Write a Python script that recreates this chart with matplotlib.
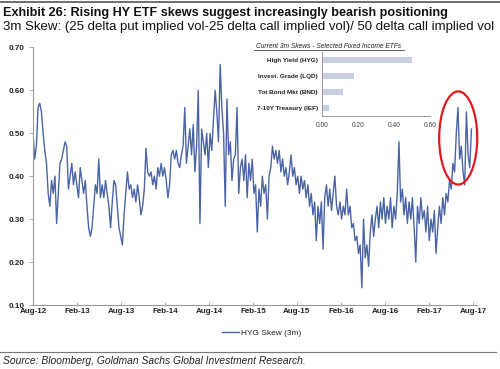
import numpy as np
import pandas as pd
import matplotlib
matplotlib.use("Agg")
import matplotlib.pyplot as plt
import matplotlib.dates as mdates
from matplotlib.patches import Ellipse
from matplotlib.lines import Line2D

plt.rcParams["font.family"] = ["Liberation Sans", "DejaVu Sans"]

# ===================== data =====================
# weekly HYG 3m skew (starts Aug-2012)
start_date = "2012-08-01"
hyg_skew = [
    0.50, 0.44, 0.47, 0.56, 0.57, 0.55, 0.50, 0.46, 0.43, 0.36, 0.33, 0.39, 0.36,
    0.40, 0.29, 0.36, 0.43, 0.44, 0.46, 0.48, 0.47, 0.37, 0.40, 0.43, 0.38, 0.41,
    0.38, 0.35, 0.42, 0.39, 0.36, 0.39, 0.33, 0.28, 0.26, 0.28, 0.33, 0.38, 0.36,
    0.44, 0.35, 0.38, 0.35, 0.39, 0.36, 0.33, 0.28, 0.34, 0.39, 0.38, 0.33, 0.28,
    0.26, 0.24, 0.31, 0.36, 0.41, 0.37, 0.38, 0.35, 0.37, 0.34, 0.38, 0.35, 0.31,
    0.33, 0.37, 0.465, 0.41, 0.40, 0.41, 0.38, 0.40, 0.37, 0.42, 0.40, 0.43, 0.40,
    0.42, 0.39, 0.35, 0.38, 0.45, 0.46, 0.44, 0.46, 0.43, 0.42, 0.45, 0.47, 0.56,
    0.43, 0.47, 0.51, 0.45, 0.52, 0.41, 0.47, 0.60, 0.29, 0.51, 0.48, 0.45, 0.50,
    0.42, 0.50, 0.46, 0.53, 0.60, 0.55, 0.48, 0.66, 0.56, 0.50, 0.33, 0.58, 0.45,
    0.48, 0.39, 0.44, 0.45, 0.56, 0.36, 0.42, 0.44, 0.39, 0.45, 0.35, 0.43, 0.39,
    0.44, 0.36, 0.38, 0.27, 0.37, 0.33, 0.40, 0.36, 0.38, 0.30, 0.40, 0.42, 0.47,
    0.44, 0.46, 0.43, 0.46, 0.41, 0.44, 0.40, 0.42, 0.38, 0.41, 0.45, 0.40, 0.42,
    0.38, 0.40, 0.36, 0.40, 0.37, 0.39, 0.35, 0.38, 0.33, 0.36, 0.31, 0.34, 0.25,
    0.33, 0.29, 0.34, 0.23, 0.35, 0.38, 0.33, 0.37, 0.32, 0.36, 0.40, 0.33, 0.31,
    0.34, 0.30, 0.33, 0.31, 0.37, 0.31, 0.33, 0.28, 0.29, 0.25, 0.26, 0.22, 0.24,
    0.14, 0.30, 0.21, 0.24, 0.19, 0.27, 0.31, 0.26, 0.30, 0.33, 0.28, 0.34, 0.30,
    0.35, 0.29, 0.33, 0.30, 0.35, 0.28, 0.33, 0.30, 0.36, 0.48, 0.34, 0.37, 0.31,
    0.35, 0.29, 0.34, 0.30, 0.35, 0.28, 0.20, 0.33, 0.29, 0.35, 0.30, 0.32, 0.27,
    0.33, 0.25, 0.30, 0.27, 0.32, 0.22, 0.28, 0.33, 0.29, 0.35, 0.31, 0.36, 0.34,
    0.39, 0.37, 0.43, 0.41, 0.50, 0.56, 0.44, 0.47, 0.41, 0.38, 0.55, 0.45, 0.42,
    0.51,
]

etf_labels = ["High Yield (HYG)", "Invest. Grade (LQD)", "Tot Bond Mkt (BND)", "7-10Y Treasury (IEF)"]
etf_skews = [0.50, 0.175, 0.115, 0.04]

x_tick_labels = ["Aug-12", "Feb-13", "Aug-13", "Feb-14", "Aug-14", "Feb-15",
                 "Aug-15", "Feb-16", "Aug-16", "Feb-17", "Aug-17"]
x_tick_dates = pd.date_range("2012-08-01", periods=len(x_tick_labels), freq="6MS")

# ===================== style =====================
LINE_COLOR = "#4a64a6"
BAR_COLOR = "#c8cfe4"
SPINE_COLOR = "#9a9a9a"
TEXT_COLOR = "#222222"

dates = pd.date_range(start_date, periods=len(hyg_skew), freq="7D")

fig = plt.figure(figsize=(5.0, 3.69), dpi=100)
W, H = 500, 369


def fx(px):
    return px / W


def fy(py):
    return 1 - py / H


# ---------- header / footer ----------
fig.add_artist(Line2D([0, 1], [fy(2), fy(2)], color="#555555", lw=1.2))
fig.text(fx(3), fy(13), "Exhibit 26: Rising HY ETF skews suggest increasingly bearish positioning",
         fontsize=9.1, fontweight="bold", color="#111111", va="center", ha="left")
fig.text(fx(3), fy(27), "3m Skew: (25 delta put implied vol-25 delta call implied vol)/ 50 delta call implied vol",
         fontsize=9.5, color="#111111", va="center", ha="left")
fig.add_artist(Line2D([0, fx(496)], [fy(352), fy(352)], color="#777777", lw=0.8))
fig.text(fx(3), fy(361), "Source: Bloomberg, Goldman Sachs Global Investment Research.",
         fontsize=7.4, style="italic", color="#222222", va="center", ha="left")

# ---------- main chart ----------
ax = fig.add_axes([fx(33), fy(305), fx(477 - 33), (305 - 47.4) / H])
ax.plot(dates, hyg_skew, color=LINE_COLOR, lw=1.0, label="HYG Skew (3m)")
ax.set_ylim(0.10, 0.70)
ax.set_yticks(np.arange(0.10, 0.71, 0.10))
ax.yaxis.set_major_formatter(matplotlib.ticker.FormatStrFormatter("%.2f"))
ax.set_xlim(pd.Timestamp("2012-08-01"), pd.Timestamp("2017-08-18"))
ax.set_xticks(x_tick_dates)
ax.set_xticklabels(x_tick_labels)

for s in ["top", "right"]:
    ax.spines[s].set_visible(False)
for s in ["left", "bottom"]:
    ax.spines[s].set_color(SPINE_COLOR)
    ax.spines[s].set_linewidth(0.8)

ax.tick_params(axis="y", direction="out", length=3, width=0.6, color=SPINE_COLOR,
               labelsize=5.8, labelcolor=TEXT_COLOR, pad=3)
ax.tick_params(axis="x", direction="in", length=2.5, width=0.6, color=SPINE_COLOR,
               labelsize=5.8, labelcolor=TEXT_COLOR, pad=2)
for lab in ax.get_xticklabels() + ax.get_yticklabels():
    lab.set_fontweight("bold")

# red ellipse around the recent jump
cx = mdates.date2num(pd.Timestamp("2017-06-01"))
ell = Ellipse((cx, 0.489), width=158, height=0.217, fill=False,
              edgecolor="#e0191e", lw=1.6, clip_on=False, zorder=5)
ax.add_patch(ell)

leg = ax.legend(loc="center", bbox_to_anchor=(fx(262), fy(333)),
                bbox_transform=fig.transFigure, frameon=False,
                fontsize=6, handlelength=2.0, handletextpad=0.3)
for t in leg.get_texts():
    t.set_color(TEXT_COLOR)

# ---------- inset bar chart ----------
ax_in = fig.add_axes([fx(322), fy(116), fx(430 - 322), (116 - 52) / H])
ypos = np.arange(len(etf_labels))[::-1]
ax_in.barh(ypos, etf_skews, height=0.42, color=BAR_COLOR, edgecolor="none")
ax_in.set_xlim(0, 0.60)
ax_in.set_ylim(-0.5, len(etf_labels) - 0.5)
ax_in.set_xticks([0.0, 0.2, 0.4, 0.6])
ax_in.xaxis.set_major_formatter(matplotlib.ticker.FormatStrFormatter("%.2f"))
ax_in.set_yticks(ypos)
ax_in.set_yticklabels(etf_labels)
ax_in.patch.set_visible(False)
for s in ["top", "right"]:
    ax_in.spines[s].set_visible(False)
for s in ["left", "bottom"]:
    ax_in.spines[s].set_color(SPINE_COLOR)
    ax_in.spines[s].set_linewidth(0.7)
ax_in.tick_params(axis="y", length=0, labelsize=4.6, labelcolor=TEXT_COLOR, pad=3)
ax_in.tick_params(axis="x", length=0, labelsize=4.8, labelcolor="#444444", pad=4)
for lab in ax_in.get_yticklabels():
    lab.set_fontweight("bold")

fig.text(fx(329), fy(46), "Current 3m Skews - Selected Fixed Income ETFs",
         fontsize=4.8, style="italic", color=TEXT_COLOR, ha="center", va="center")
fig.add_artist(Line2D([fx(254), fx(404)], [fy(50), fy(50)], color=TEXT_COLOR, lw=0.5))

fig.savefig("out.png", dpi=100)
